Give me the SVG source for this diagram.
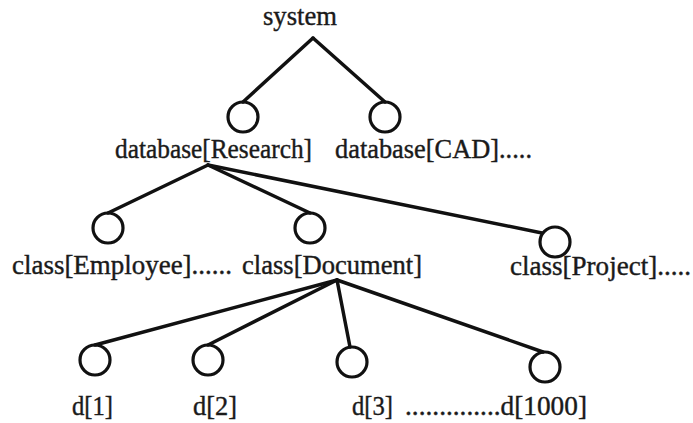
<svg xmlns="http://www.w3.org/2000/svg" width="693" height="423" viewBox="0 0 693 423">
<style>
text{font-family:"Liberation Serif","Times New Roman",serif;font-size:27px;fill:#1a1a1a;stroke:#1a1a1a;stroke-width:0.4}
.n{fill:none;stroke:#111;stroke-width:3.2}
.e{fill:none;stroke:#111;stroke-width:3.5;stroke-linecap:round}
</style>
<rect width="693" height="423" fill="#fff"/>
<g id="connectors">
<line class="e" x1="313" y1="38" x2="243" y2="102"/>
<line class="e" x1="313" y1="38" x2="385" y2="102"/>
<line class="e" x1="208" y1="165" x2="108" y2="213"/>
<line class="e" x1="208" y1="165" x2="310" y2="213"/>
<line class="e" x1="208" y1="165" x2="542" y2="233"/>
<line class="e" x1="337" y1="280" x2="95" y2="345"/>
<line class="e" x1="337" y1="280" x2="208" y2="345"/>
<line class="e" x1="337" y1="280" x2="350" y2="347"/>
<line class="e" x1="337" y1="280" x2="543" y2="352"/>
</g>
<g id="system"><text x="263" y="25" textLength="74" lengthAdjust="spacingAndGlyphs">system</text></g>
<g id="db-research"><circle class="n" cx="243" cy="117" r="15"/><text x="115" y="158" textLength="197" lengthAdjust="spacingAndGlyphs">database[Research]</text></g>
<g id="db-cad"><circle class="n" cx="385" cy="117" r="15"/><text x="335" y="158" textLength="197" lengthAdjust="spacingAndGlyphs">database[CAD].....</text></g>
<g id="class-employee"><circle class="n" cx="108" cy="228" r="15"/><text x="12" y="274" textLength="220" lengthAdjust="spacingAndGlyphs">class[Employee]......</text></g>
<g id="class-document"><circle class="n" cx="310" cy="228" r="15"/><text x="242" y="274" textLength="180" lengthAdjust="spacingAndGlyphs">class[Document]</text></g>
<g id="class-project"><circle class="n" cx="555" cy="242" r="15"/><text x="510" y="275" textLength="181" lengthAdjust="spacingAndGlyphs">class[Project].....</text></g>
<g id="d1"><circle class="n" cx="95" cy="360" r="15"/><text x="72" y="415" textLength="41" lengthAdjust="spacingAndGlyphs">d[1]</text></g>
<g id="d2"><circle class="n" cx="208" cy="360" r="15"/><text x="193" y="415" textLength="44" lengthAdjust="spacingAndGlyphs">d[2]</text></g>
<g id="d3"><circle class="n" cx="352" cy="362" r="15"/><text x="352" y="415" textLength="41" lengthAdjust="spacingAndGlyphs">d[3]</text></g>
<g id="d1000"><circle class="n" cx="545" cy="367" r="15"/><text x="405" y="415" textLength="182" lengthAdjust="spacingAndGlyphs">..............d[1000]</text></g>
</svg>
